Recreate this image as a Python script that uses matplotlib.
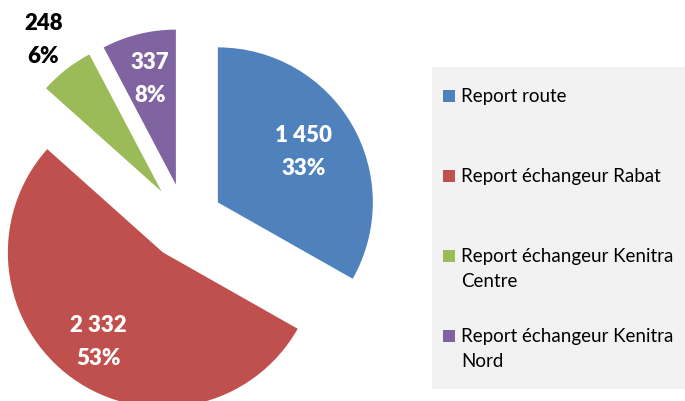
import numpy as np
import matplotlib
matplotlib.use('Agg')
import matplotlib.pyplot as plt
from matplotlib.patches import Rectangle

#%% data

categories = ['Report route', 'Report échangeur Rabat',
              'Report échangeur Kenitra\nCentre', 'Report échangeur Kenitra\nNord']
values = [1450, 2332, 248, 337]
colors = ['#4f81bd', '#c0504d', '#9bbb59', '#8064a2']

#%% label styling (distance from slice tip, in radii)

label_dist = [0.64, 0.71, 1.24, 0.70]
label_col = ['white', 'white', 'black', 'white']

W, H = 685, 401

fig = plt.figure(figsize=(W/100, H/100), dpi=100)
ax = fig.add_axes([0, 0, 1, 1])

R = 155
wedges, _ = ax.pie(values, colors=colors, startangle=90, counterclock=False,
                   radius=R, center=(185, H-221.5), explode=[38]*4,
                   wedgeprops=dict(linewidth=0))

total = float(np.sum(values))
for k, w in enumerate(wedges):
    ang = np.deg2rad((w.theta1+w.theta2)/2)
    cx, cy = w.center
    x = cx+label_dist[k]*R*np.cos(ang)
    y = cy+label_dist[k]*R*np.sin(ang)
    txt = f'{values[k]:,}'.replace(',', ' ')+'\n'+f'{100*values[k]/total:.0f}%'
    ax.text(x, y, txt, ha='center', va='center', color=label_col[k],
            fontsize=16, fontweight=800, family='Lato', linespacing=1.7)

#%% legend (drawn by hand, first line aligned with marker)

ax.add_patch(Rectangle((432, H-389), 253, 322, facecolor='#f2f2f2', edgecolor='none'))
y0 = 96
for k, lab in enumerate(categories):
    yy = H-(y0+80*k)
    ax.add_patch(Rectangle((443, yy-6), 12, 12, facecolor=colors[k], edgecolor='none'))
    for j, line in enumerate(lab.split('\n')):
        ax.text(461, yy-6-25*j, line, ha='left', va='baseline', fontsize=13.5,
                family='Lato', color='black')

ax.set_xlim(0, W)
ax.set_ylim(0, H)
ax.axis('off')

fig.savefig('out.png', dpi=100)
